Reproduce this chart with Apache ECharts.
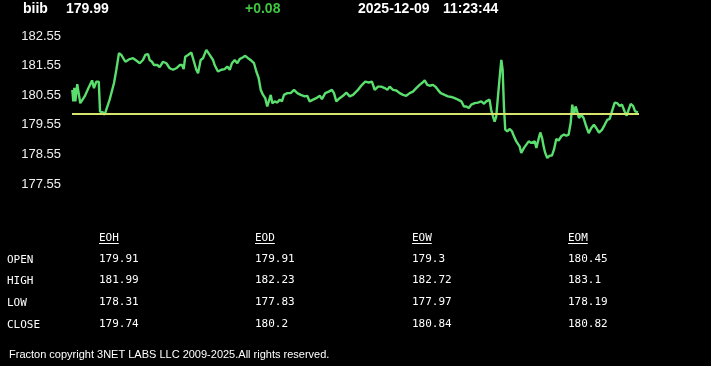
<!DOCTYPE html>
<html><head><meta charset="utf-8">
<script src="https://cdn.jsdelivr.net/npm/echarts@6/dist/echarts.min.js"></script>
<style>html,body{margin:0;padding:0;background:#000;}#c{width:711px;height:366px;}</style>
</head><body><div id="c"></div>
<script>
// Header
const symbol = 'biib';
const lastPrice = '179.99';
const change = '+0.08';
const dateStr = '2025-12-09';
const timeStr = '11:23:44';

// Price series (minutes since session open, price)
const minutes = [0.2,0.9,1.6,2.3,3.6,5.7,8.7,11.0,13.8,15.1,
16.7,18.4,19.3,21.3,22.5,23.6,25.9,28.9,30.5,32.3,
33.9,36.7,39.7,42.0,44.2,46.6,48.8,50.4,52.3,53.4,
55.0,56.4,58.7,60.3,62.6,64.9,67.2,69.5,71.7,74.1,
75.7,76.8,77.9,79.8,82.1,83.9,85.5,86.7,88.5,90.1,
92.4,94.7,97.0,98.1,100.4,102.7,105.0,106.8,108.5,110.0,
111.9,113.7,115.3,117.6,119.2,121.1,123.3,125.2,126.8,128.4,
129.8,131.4,132.9,134.3,135.3,136.7,137.8,139.4,141.2,142.9,
144.4,145.8,148.1,150.4,152.7,155.0,157.3,160.1,161.8,163.5,
165.8,168.0,170.4,171.9,174.2,176.6,178.8,180.2,181.8,184.1,
186.4,188.7,191.0,193.3,196.7,199.5,201.7,204.1,206.3,208.2,
210.5,212.7,215.1,216.9,218.5,220.8,223.1,225.4,227.7,229.9,
232.3,234.5,236.8,239.1,240.7,242.6,244.4,246.0,248.3,249.9,
251.7,253.6,256.3,258.6,260.9,263.2,265.5,267.8,269.6,271.2,
272.9,274.6,277.0,279.2,281.5,283.4,284.9,286.1,287.2,288.3,
289.6,290.7,291.8,293.0,294.2,295.3,296.2,297.1,298.0,299.4,
301.1,302.6,304.0,305.6,306.8,307.9,309.0,310.9,312.5,314.1,
315.9,317.1,318.3,319.4,320.5,322.1,323.3,324.4,325.5,326.9,
328.6,330.1,331.5,333.1,334.7,336.5,338.4,340.0,341.6,343.0,
344.1,345.3,346.4,347.5,348.7,350.3,351.9,353.7,355.4,357.2,
359.0,360.6,362.5,364.5,366.4,368.2,369.8,371.4,373.3,375.0,
376.7,378.3,380.1,381.5,382.9,384.3,385.9,387.4,389.3];
const prices = [180.73,180.34,180.80,180.34,180.92,180.28,180.51,180.76,181.05,180.79,
181.01,181.01,180.00,179.97,179.89,180.06,180.40,180.96,181.41,181.97,
181.91,181.68,181.77,181.80,181.72,181.63,181.74,181.91,181.94,181.74,
181.68,181.57,181.57,181.50,181.68,181.63,181.46,181.41,181.46,181.57,
181.57,181.43,181.85,181.91,181.99,181.68,181.41,181.29,181.74,181.80,
182.08,181.91,181.74,181.57,181.35,181.41,181.43,181.52,181.41,181.63,
181.74,181.63,181.77,181.83,181.88,181.80,181.72,181.63,181.35,181.13,
180.73,180.56,180.45,180.17,180.12,180.56,180.28,180.34,180.30,180.40,
180.34,180.56,180.62,180.62,180.73,180.62,180.56,180.51,180.53,180.34,
180.40,180.45,180.53,180.42,180.62,180.67,180.73,180.62,180.34,180.45,
180.53,180.64,180.51,180.56,180.73,180.90,181.01,180.98,181.01,180.73,
180.84,180.84,180.79,180.73,180.84,180.73,180.71,180.62,180.56,180.53,
180.62,180.67,180.79,180.90,180.96,181.05,180.90,180.87,180.90,180.84,
180.73,180.62,180.56,180.51,180.49,180.45,180.40,180.34,180.17,180.17,
180.12,180.23,180.28,180.30,180.34,180.26,180.34,180.30,180.40,180.06,
179.83,179.66,179.83,180.51,181.18,181.74,181.41,180.17,179.39,179.33,
179.41,179.33,179.16,178.99,178.96,178.82,178.60,178.77,178.88,178.99,
178.94,178.88,178.99,178.77,178.99,179.29,179.11,178.82,178.60,178.43,
178.51,178.51,178.71,179.07,179.02,179.16,179.22,179.18,179.22,179.61,
180.23,179.89,180.17,180.00,179.78,179.89,179.78,179.50,179.27,179.44,
179.55,179.44,179.29,179.38,179.55,179.72,179.75,180.00,180.30,180.28,
180.19,180.23,180.00,179.86,180.06,180.26,180.19,180.00,179.97];
const refLine = 179.91;

// Y axis ticks
const yMin = 177.55, yMax = 182.55, yStep = 1;
const xMin = 0, xMax = 390;

// Table
const rowLabels = ['OPEN', 'HIGH', 'LOW', 'CLOSE'];
const colLabels = ['EOH', 'EOD', 'EOW', 'EOM'];
const eoh = ['179.91', '181.99', '178.31', '179.74'];
const eod = ['179.91', '182.23', '177.83', '180.2'];
const eow = ['179.3', '182.72', '177.97', '180.84'];
const eom = ['180.45', '183.1', '178.19', '180.82'];
const footer = 'Fracton copyright 3NET LABS LLC 2009-2025.All rights reserved.';

const GREEN = '#5ade6e', YELLOW = '#d6e46e', TXT = '#ffffff';
const chart = echarts.init(document.getElementById('c'), null, {renderer: 'canvas'});

const graphics = [];
const hdr = (x, text, color) => graphics.push({type: 'text', x: x, y: 9,
  style: {text: text, fill: color, font: 'bold 14px "Liberation Sans", Arial, sans-serif', textVerticalAlign: 'middle'}});
hdr(23, symbol, TXT);
hdr(66, lastPrice, TXT);
hdr(245, change, '#3fc63f');
hdr(358, dateStr, TXT);
hdr(443, timeStr, TXT);

const mono = '11px "DejaVu Sans Mono", monospace';
const colX = [99, 255, 412, 568];
const cols = [eoh, eod, eow, eom];
const rowY = [259, 280, 302, 324];
colLabels.forEach((c, i) => {
  graphics.push({type: 'text', x: colX[i], y: 238, style: {text: c, fill: TXT, font: mono, textVerticalAlign: 'middle'}});
  graphics.push({type: 'line', shape: {x1: colX[i], y1: 243.5, x2: colX[i] + c.length * 6.6, y2: 243.5}, style: {stroke: TXT, lineWidth: 1}});
});
rowLabels.forEach((r, j) => {
  graphics.push({type: 'text', x: 7, y: rowY[j] + 1, style: {text: r, fill: TXT, font: mono, textVerticalAlign: 'middle'}});
  cols.forEach((col, i) => {
    graphics.push({type: 'text', x: colX[i], y: rowY[j], style: {text: col[j], fill: TXT, font: mono, textVerticalAlign: 'middle'}});
  });
});
graphics.push({type: 'text', x: 9, y: 355, style: {text: footer, fill: TXT, font: '11px "Liberation Sans", Arial, sans-serif', textVerticalAlign: 'middle'}});

chart.setOption({
  backgroundColor: '#000000',
  animation: false,
  grid: {left: 72, right: 72, top: 36, bottom: 182, containLabel: false},
  xAxis: {type: 'value', min: xMin, max: xMax, show: false},
  yAxis: {
    type: 'value', min: yMin, max: yMax, interval: yStep,
    axisLine: {show: false}, axisTick: {show: false}, splitLine: {show: false},
    axisLabel: {color: '#f0f0f0', fontSize: 13, fontFamily: '"Liberation Sans", Arial, sans-serif', margin: 11,
      formatter: v => v.toFixed(2)}
  },
  series: [{
    type: 'line',
    data: minutes.map((m, i) => [m, prices[i]]),
    showSymbol: false,
    lineStyle: {color: GREEN, width: 2.4},
    itemStyle: {color: GREEN},
    markLine: {
      silent: true, symbol: ['none', 'none'], label: {show: false},
      lineStyle: {color: YELLOW, type: 'solid', width: 2},
      data: [{yAxis: refLine}]
    }
  }],
  graphic: graphics
});
</script>
</body></html>
